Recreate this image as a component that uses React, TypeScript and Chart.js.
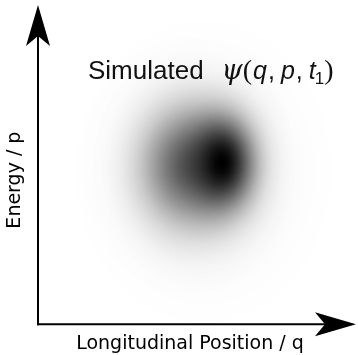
import { useEffect, useRef } from "react";
import { Chart, registerables } from "chart.js";

Chart.register(...registerables);

// ---- data ----
const xAxisTitle = "Longitudinal Position / q";
const yAxisTitle = "Energy / p";
// title pieces: "Simulated ψ(q, p, t₁)"
const titlePieces = ["Simulated", "ψ", "(", "q", ",", "p", ",", "t", "1", ")"];
// Gaussian components of the simulated density (data units)
const blobX = [6.05, 4.9, 5.45];
const blobY = [5.6, 5.5, 5.3];
const blobSx = [0.68, 1.0, 1.42];
const blobSy = [1.0, 1.3, 1.78];
const blobPeak = [1.0, 0.56, 0.16];

// ---- styles for title pieces ----
const pieceStyle: { font: string; gap: number; dy: number }[] = [
  { font: '26px "Liberation Sans"', gap: 0, dy: 0 },
  { font: 'italic 27px "DejaVu Serif"', gap: 18, dy: 0 },
  { font: '28px "Liberation Serif"', gap: 0, dy: 0 },
  { font: 'italic 25px "Liberation Sans"', gap: 1, dy: 0 },
  { font: '25px "Liberation Sans"', gap: 1, dy: 0 },
  { font: 'italic 25px "Liberation Sans"', gap: 6, dy: 0 },
  { font: '25px "Liberation Sans"', gap: 1, dy: 0 },
  { font: 'italic 25px "Liberation Sans"', gap: 6, dy: 0 },
  { font: '17px "Liberation Sans"', gap: -1, dy: 5 },
  { font: '28px "Liberation Serif"', gap: 0, dy: 0 },
];

const densityPlugin = {
  id: "density",
  beforeDatasetsDraw(chart: any) {
    const { ctx, scales } = chart;
    const xs = scales.x;
    const ys = scales.y;
    for (let i = 0; i < blobX.length; i++) {
      const cx = xs.getPixelForValue(blobX[i]);
      const cy = ys.getPixelForValue(blobY[i]);
      const sx = Math.abs(xs.getPixelForValue(blobX[i] + blobSx[i]) - cx);
      const sy = Math.abs(ys.getPixelForValue(blobY[i] + blobSy[i]) - cy);
      const R = 3.6;
      ctx.save();
      ctx.translate(cx, cy);
      ctx.scale(sx, sy);
      const g = ctx.createRadialGradient(0, 0, 0, 0, 0, R);
      const n = 30;
      for (let k = 0; k <= n; k++) {
        const r = (k / n) * R;
        const a = blobPeak[i] * Math.exp((-r * r) / 2);
        g.addColorStop(k / n, `rgba(0,0,0,${k === n ? 0 : a})`);
      }
      ctx.fillStyle = g;
      ctx.beginPath();
      ctx.arc(0, 0, R, 0, Math.PI * 2);
      ctx.fill();
      ctx.restore();
    }
  },
  afterDraw(chart: any) {
    const { ctx, chartArea } = chart;
    const { left, right, top, bottom } = chartArea;
    const headLen = 41;
    const notch = 31;
    const half = 12;
    ctx.save();
    ctx.strokeStyle = "#000";
    ctx.fillStyle = "#000";
    ctx.lineWidth = 2;
    // y axis arrow
    const yTip = top - 31;
    ctx.beginPath();
    ctx.moveTo(left, bottom + 1);
    ctx.lineTo(left, yTip + notch);
    ctx.stroke();
    ctx.beginPath();
    ctx.moveTo(left, yTip);
    ctx.lineTo(left + half, yTip + headLen);
    ctx.lineTo(left, yTip + notch);
    ctx.lineTo(left - half, yTip + headLen);
    ctx.closePath();
    ctx.fill();
    // x axis arrow
    const xTip = right + 14;
    ctx.beginPath();
    ctx.moveTo(left - 1, bottom);
    ctx.lineTo(xTip - notch, bottom);
    ctx.stroke();
    ctx.beginPath();
    ctx.moveTo(xTip, bottom);
    ctx.lineTo(xTip - headLen, bottom - half);
    ctx.lineTo(xTip - notch, bottom);
    ctx.lineTo(xTip - headLen, bottom + half);
    ctx.closePath();
    ctx.fill();

    // title
    let x = left + 50;
    const base = top + 43;
    ctx.fillStyle = "#111";
    ctx.textBaseline = "alphabetic";
    ctx.textAlign = "left";
    for (let i = 0; i < titlePieces.length; i++) {
      const st = pieceStyle[i];
      ctx.font = st.font;
      x += st.gap;
      ctx.fillText(titlePieces[i], x, base + st.dy);
      x += ctx.measureText(titlePieces[i]).width;
    }
    ctx.restore();
  },
};

export default function App() {
  const ref = useRef<HTMLCanvasElement | null>(null);
  useEffect(() => {
    if (!ref.current) return;
    const chart = new Chart(ref.current, {
      type: "scatter",
      data: {
        datasets: [
          {
            data: blobX.map((x, i) => ({ x, y: blobY[i] })),
            pointRadius: 0,
            pointHoverRadius: 0,
          },
        ],
      },
      options: {
        animation: false,
        responsive: true,
        maintainAspectRatio: false,
        events: [],
        layout: { padding: { left: 0, right: 16, top: 36, bottom: 0 } },
        plugins: { legend: { display: false }, tooltip: { enabled: false }, title: { display: false } },
        scales: {
          x: {
            type: "linear",
            min: 0,
            max: 10,
            grid: { display: false, drawTicks: false },
            border: { display: false },
            ticks: { display: false },
            title: {
              display: true,
              text: xAxisTitle,
              color: "#000",
              font: { family: '"DejaVu Sans"', size: 19 },
              padding: { top: 8, bottom: 0 },
            },
          },
          y: {
            type: "linear",
            min: 0,
            max: 10,
            grid: { display: false, drawTicks: false },
            border: { display: false },
            ticks: { display: false },
            title: {
              display: true,
              text: yAxisTitle,
              color: "#000",
              font: { family: '"DejaVu Sans"', size: 19 },
              padding: { top: 3.6, bottom: 11.6 },
            },
          },
        },
      },
      plugins: [densityPlugin],
    });
    return () => chart.destroy();
  }, []);
  return (
    <div style={{ position: "absolute", left: 0, top: 0, width: 358, height: 355 }}>
      <canvas ref={ref} />
    </div>
  );
}
